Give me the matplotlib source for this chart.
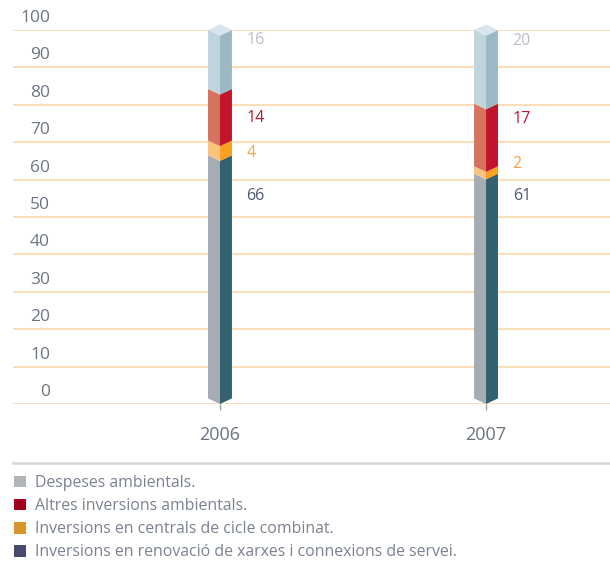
import matplotlib.pyplot as plt
from matplotlib.patches import Polygon, Patch
from matplotlib.transforms import ScaledTranslation

plt.rcParams['font.family'] = ['Open Sans', 'DejaVu Sans']

# data (stack order: bottom -> top)
years = ['2006', '2007']
renovacio = [66, 61]
centrals = [4, 2]
altres = [14, 17]
despeses = [16, 20]
series = [renovacio, centrals, altres, despeses]
legend_names = ['Despeses ambientals.',
                'Altres inversions ambientals.',
                'Inversions en centrals de cicle combinat.',
                'Inversions en renovació de xarxes i connexions de servei.']
# where the value labels sit (data y), per series, per year
label_at = [[55.6, 55.6], [67.1, 64.2], [76.5, 76.2], [97.3, 97.1]]

# styles
front = ['#a5acb6', '#fcc47a', '#d6735f', '#c0d4de']
side = ['#34616f', '#f8a020', '#c1152b', '#9db8c5']
cap = '#d8e5ec'
txt_col = ['#505577', '#f5a442', '#b5172f', '#b8c0c8']
leg_col = ['#b0b5ba', '#a3001e', '#d9962a', '#484a6e']
grid_col = '#fbd5a2'
gray = '#6b7480'

fig = plt.figure(figsize=(6.1, 5.61), dpi=100)
ax = fig.add_axes([13/610, (561-404)/561, 1-13/610, 374/561])
ax.set_xlim(-0.778, 1.466)
ax.set_ylim(0, 100)

w = 0.045   # half width of column
d = 1.5     # perspective drop
sc = 0.985  # column drawn a touch shorter than the grid

for i in range(len(years)):
    x = i
    bottom = 0
    for k, s in enumerate(series):
        top = bottom + s[i]
        b, t = bottom*sc, top*sc
        ax.add_patch(Polygon([(x-w, b+d), (x, b), (x, t), (x-w, t+d)],
                             closed=True, fc=front[k], ec='none', zorder=3, clip_on=False))
        ax.add_patch(Polygon([(x, b), (x+w, b+d), (x+w, t+d), (x, t)],
                             closed=True, fc=side[k], ec='none', zorder=3, clip_on=False))
        ax.text(x+0.1, label_at[k][i], str(s[i]), color=txt_col[k], fontsize=11.5,
                ha='left', va='center', zorder=4)
        bottom = top
    t = bottom*sc
    ax.add_patch(Polygon([(x-w, t+d), (x, t+2*d), (x+w, t+d), (x, t)],
                         closed=True, fc=cap, ec='none', zorder=3, clip_on=False))

# grid
ax.set_yticks(range(0, 101, 10))
ax.yaxis.grid(True, color=grid_col, lw=1.1)
ax.set_axisbelow(True)
ax.tick_params(axis='y', length=0, pad=-26.6, labelsize=12.5, labelcolor=gray)
off = ScaledTranslation(0, 0.14, fig.dpi_scale_trans)
for lbl in ax.get_yticklabels():
    lbl.set_transform(lbl.get_transform() + off)

ax.set_xticks(range(len(years)))
ax.set_xticklabels(years)
ax.tick_params(axis='x', length=4, width=1, color='#9aa0a8', pad=12,
               labelsize=13, labelcolor=gray)
for sp in ax.spines.values():
    sp.set_visible(False)

# separator line
fig.add_artist(plt.Line2D([13/610, 1], [1-463/561, 1-463/561], color='#d3d7db', lw=1.8))

handles = [Patch(fc=c, ec='none') for c in leg_col]
leg = fig.legend(handles, legend_names, loc='upper left', bbox_to_anchor=(14/610, 1-475/561),
                 frameon=False, fontsize=11.4, handlelength=0.75, handleheight=0.75,
                 handletextpad=0.55, labelspacing=0.45, borderpad=0, borderaxespad=0)
for t in leg.get_texts():
    t.set_color('#7a8290')

fig.savefig('out.png', dpi=100)
